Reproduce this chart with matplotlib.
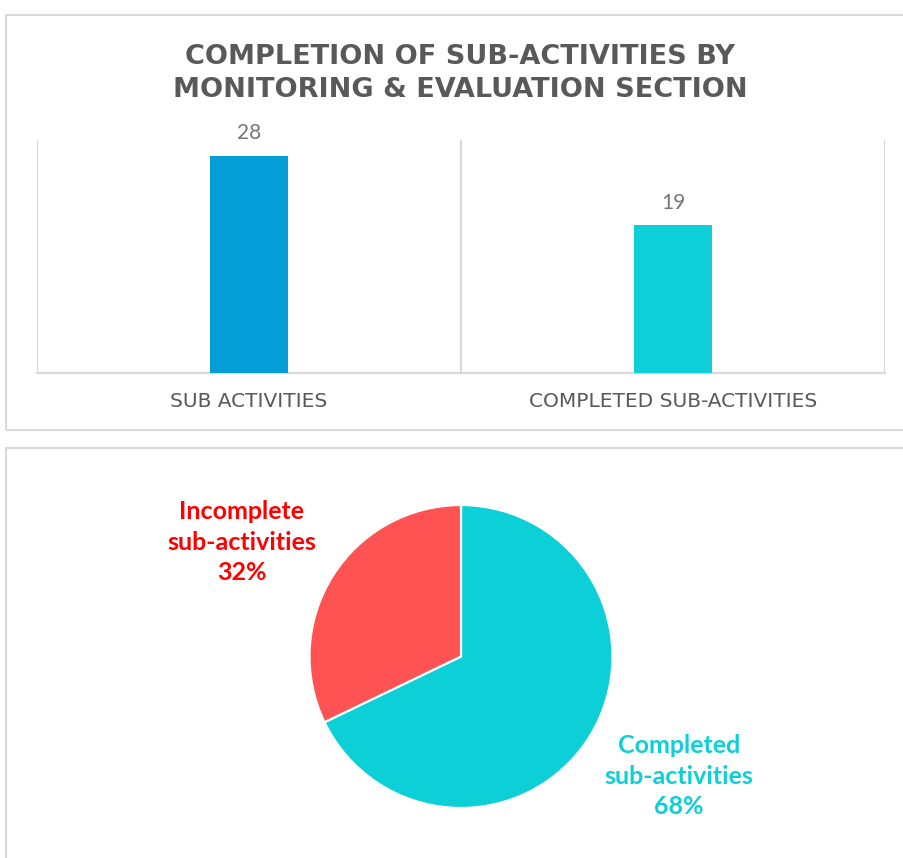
import matplotlib
matplotlib.use("Agg")
import matplotlib.pyplot as plt
from matplotlib.patches import Rectangle

# ---- data ----
categories = ["SUB ACTIVITIES", "COMPLETED SUB-ACTIVITIES"]
counts = [28, 19]
bar_colors = ["#049dd8", "#0dcfd8"]

pie_names = ["Completed\nsub-activities", "Incomplete\nsub-activities"]
pie_values = [19, 9]
pie_colors = ["#0dcfd8", "#ff5252"]
pie_label_colors = ["#0dcfd8", "#ff0000"]

title_lines = ["COMPLETION OF SUB-ACTIVITIES BY", "MONITORING & EVALUATION SECTION"]

W, H = 904, 858
fig = plt.figure(figsize=(W / 100, H / 100), dpi=100)
fig.patch.set_facecolor("white")

def fx(px):
    return px / W

def fy(py):
    return 1 - py / H

border = "#d9d9d9"
# panel boxes
fig.patches.append(Rectangle((fx(6), fy(430)), fx(920) - fx(6), fy(15) - fy(430),
                             transform=fig.transFigure, fill=False, edgecolor=border,
                             linewidth=1.5, zorder=0))
fig.patches.append(Rectangle((fx(6), fy(880)), fx(920) - fx(6), fy(448) - fy(880),
                             transform=fig.transFigure, fill=False, edgecolor=border,
                             linewidth=1.5, zorder=0))

# ---- title ----
fig.text(fx(460), fy(43.5), "\n".join(title_lines), ha="center", va="top",
         fontsize=19.5, fontweight="bold", color="#595959",
         family="DejaVu Sans", linespacing=1.37)

# ---- bar chart ----
ax = fig.add_axes([fx(37), fy(373), fx(885) - fx(37), fy(140) - fy(373)])
x = list(range(len(categories)))
bars = ax.bar(x, counts, width=0.186, color=bar_colors, zorder=3)
ax.set_xlim(-0.5, len(categories) - 0.5)
ax.set_ylim(0, 30)
for xv in [i - 0.5 for i in range(len(categories) + 1)]:
    ax.axvline(xv, color=border, linewidth=1.5, zorder=1)
for s in ["top", "right", "left"]:
    ax.spines[s].set_visible(False)
ax.spines["bottom"].set_color(border)
ax.spines["bottom"].set_linewidth(1.6)
ax.set_yticks([])
ax.set_xticks(x)
ax.set_xticklabels(categories, fontsize=14.5, color="#595959", family="DejaVu Sans")
ax.tick_params(axis="x", length=0, pad=14)
ax.bar_label(bars, labels=[str(v) for v in counts], padding=9, fontsize=15,
             color="#767676", family="Lato")
ax.set_facecolor("none")

# ---- pie chart ----
cx, cy, r = 461, 656.5, 151.5
S = 200
pax = fig.add_axes([fx(cx - S), fy(cy + S), fx(2 * S), (2 * S) / H])
wedges, _ = pax.pie(pie_values, colors=pie_colors, startangle=90, counterclock=False,
                    radius=1, wedgeprops=dict(edgecolor="white", linewidth=1.6))
lim = S / r
pax.set_xlim(-lim, lim)
pax.set_ylim(-lim, lim)
pax.set_aspect("equal")
pax.axis("off")

total = sum(pie_values)
label_pos = [((679 - cx) / r, (cy - 776) / r), ((241.5 - cx) / r, (cy - 542) / r)]
for name, v, col, (lx, ly) in zip(pie_names, pie_values, pie_label_colors, label_pos):
    pax.text(lx, ly, f"{name}\n{v / total * 100:.0f}%", ha="center", va="center",
             fontsize=18, fontweight="bold", color=col, family="Lato",
             linespacing=1.42)

fig.savefig("out.png", dpi=100, facecolor="white")
